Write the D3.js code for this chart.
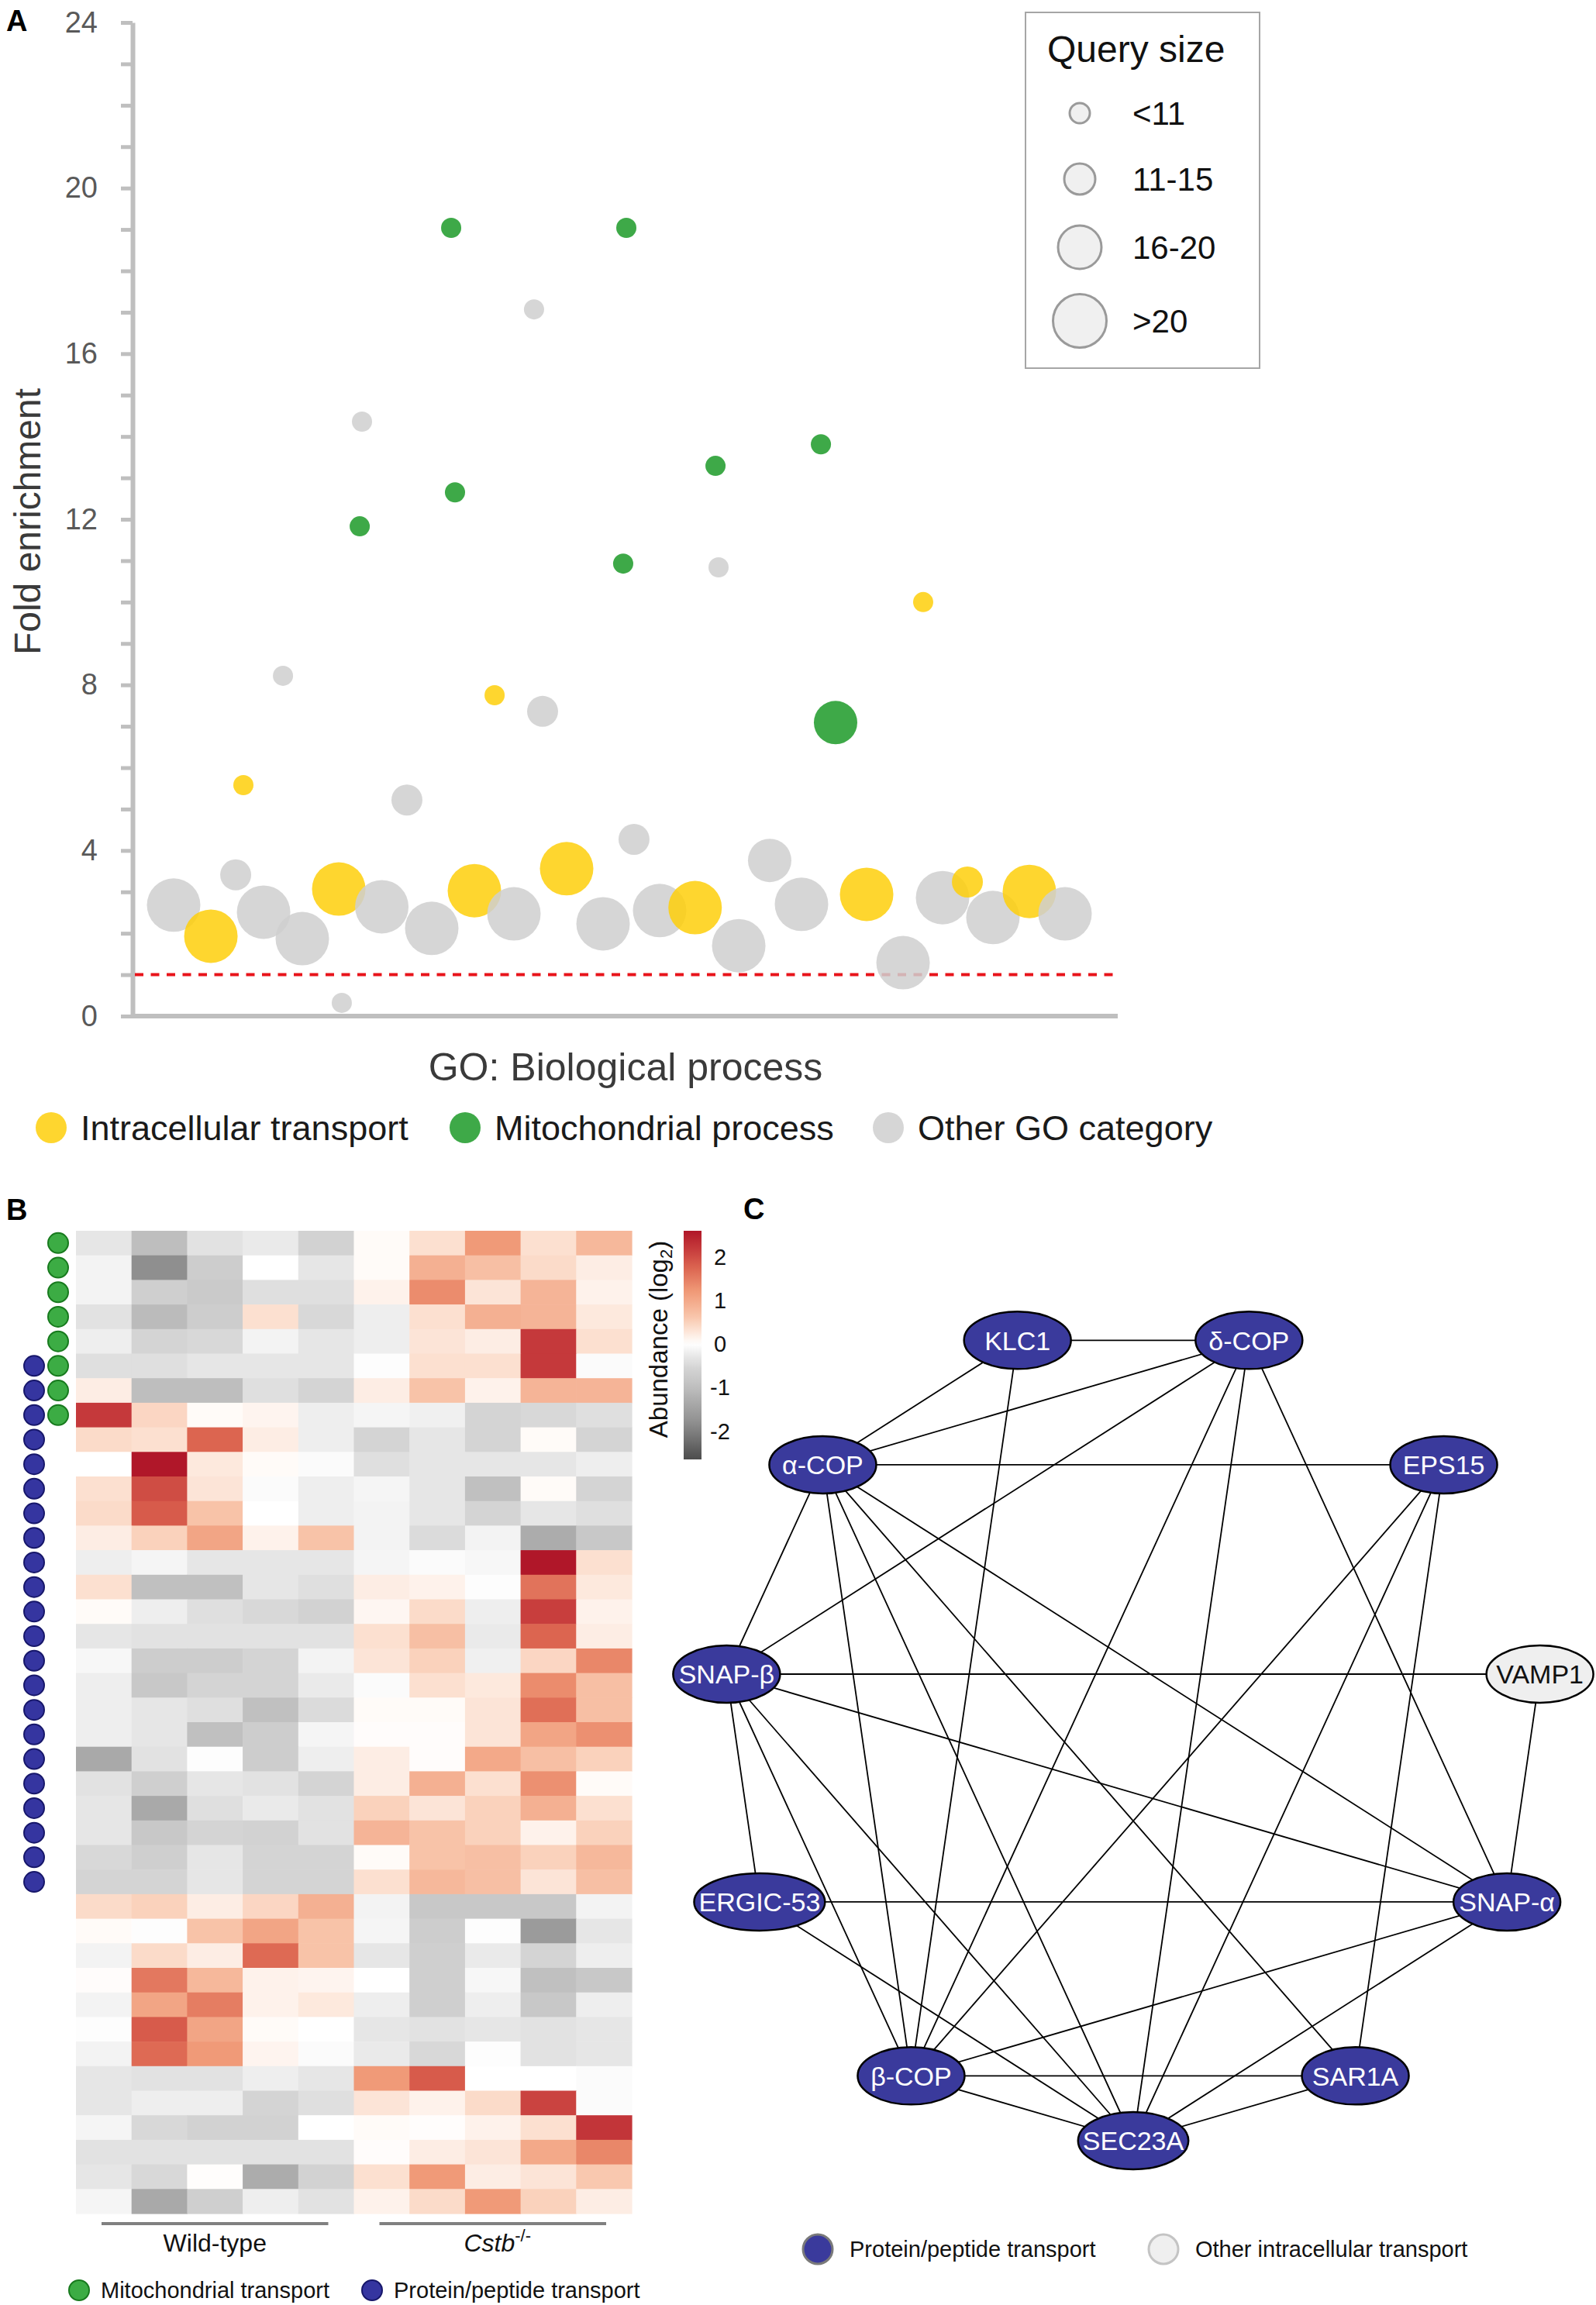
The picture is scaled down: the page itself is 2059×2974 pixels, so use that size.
<!DOCTYPE html>
<html><head><meta charset="utf-8">
<script src="https://cdn.jsdelivr.net/npm/d3@7"></script>
<style>
body{margin:0;background:#fff}
svg{display:block}
text{font-family:"Liberation Sans",Arial,Helvetica,sans-serif}
</style>
</head><body>
<svg id="chart" width="2059" height="2974"></svg>
<script>
// ================= DATA =================
// Panel A: GO biological process enrichment (x = term position on hidden axis 0-100)
const goTermX = [4.17,7.95,10.47,11.25,13.3,15.27,17.23,20.93,21.24,23.06,23.29,25.3,27.85,30.37,32.34,32.73,34.7,36.75,38.71,40.75,41.62,44.06,47.76,49.8,50.12,50.9,53.5,57.1,59.17,59.48,61.53,64.67,67.9,69.87,71.36,74.51,78.21,80.25,82.22,84.74,87.33,91.03,94.65];
const goFold = [2.68,1.93,3.41,5.58,2.51,8.22,1.87,3.07,0.32,11.83,14.36,2.64,5.22,2.12,19.04,12.65,3.03,7.75,2.47,17.07,7.36,3.56,2.23,10.93,19.04,4.27,2.55,2.62,13.29,10.84,1.70,3.76,2.70,13.81,7.09,2.94,1.29,10.0,2.86,3.24,2.38,3.01,2.47];
const goQuerySize = [">20",">20","11-15","<11",">20","<11",">20",">20","<11","<11","<11",">20","11-15",">20","<11","<11",">20","<11",">20","<11","11-15",">20",">20","<11","<11","11-15",">20",">20","<11","<11",">20","16-20",">20","<11","16-20",">20",">20","<11",">20","11-15",">20",">20",">20"];
const goCategory = ["O","I","O","I","O","O","O","I","O","M","O","O","O","O","M","M","I","I","O","O","O","I","O","M","M","O","O","I","M","O","O","O","O","M","M","I","O","I","O","I","O","I","O"];
const categoryCodes = ["I","M","O"];
const categoryNames = ["Intracellular transport","Mitochondrial process","Other GO category"];
const querySizeClasses = ["<11","11-15","16-20",">20"];
const foldTicks = d3.range(0,25);
const foldThreshold = 1;

// Panel B: heatmap of abundance (log2), 40 proteins x 10 samples
const sampleNames = ["WT1","WT2","WT3","WT4","WT5","KO1","KO2","KO3","KO4","KO5"];
const sampleGroups = [
  {name:"Wild-type", from:0, to:4},
  {name:"Cstb", sup:"-/-", from:5, to:9}
];
const heatRows = [
[-0.3,-1.0,-0.35,-0.25,-0.6, 0.05,0.35,1.2,0.35,0.8],
[-0.15,-1.8,-0.7,0,-0.3, 0.05,0.9,0.7,0.4,0.2],
[-0.15,-0.65,-0.75,-0.4,-0.4, 0.15,1.35,0.3,0.85,0.15],
[-0.35,-1.05,-0.7,0.35,-0.5, -0.2,0.35,0.9,0.85,0.25],
[-0.2,-0.55,-0.5,-0.15,-0.3, -0.2,0.3,0.2,2.2,0.35],
[-0.4,-0.4,-0.3,-0.3,-0.3, -0.02,0.35,0.35,2.2,-0.05],
[0.2,-1.0,-1.0,-0.4,-0.55, 0.2,0.65,0.15,0.85,0.85],
[2.2,0.45,0.05,0.12,-0.2, -0.12,-0.18,-0.55,-0.5,-0.4],
[0.4,0.35,1.75,0.2,-0.2, -0.55,-0.3,-0.55,0.05,-0.55],
[0,2.6,0.25,0.05,-0.05, -0.4,-0.3,-0.3,-0.3,-0.2],
[0.35,2.0,0.3,-0.05,-0.2, -0.12,-0.3,-0.95,0.05,-0.55],
[0.4,1.85,0.65,0,-0.2, -0.15,-0.3,-0.55,-0.3,-0.4],
[0.2,0.5,1.05,0.15,0.65, -0.15,-0.45,-0.15,-1.3,-0.8],
[-0.2,-0.12,-0.3,-0.3,-0.3, -0.12,-0.05,-0.1,2.6,0.35],
[0.35,-0.95,-0.95,-0.3,-0.4, 0.2,0.15,-0.02,1.6,0.25],
[0.05,-0.2,-0.4,-0.5,-0.6, 0.1,0.4,-0.2,2.15,0.15],
[-0.3,-0.35,-0.35,-0.35,-0.35, 0.35,0.7,-0.25,1.75,0.2],
[-0.1,-0.7,-0.7,-0.55,-0.15, 0.3,0.5,-0.18,0.45,1.4],
[-0.2,-0.8,-0.55,-0.55,-0.25, -0.05,0.35,0.25,1.35,0.7],
[-0.2,-0.3,-0.4,-0.95,-0.45, 0.05,0.05,0.3,1.65,0.7],
[-0.2,-0.3,-0.95,-0.7,-0.12, 0.03,0.03,0.3,1.05,1.3],
[-1.35,-0.35,-0.02,-0.7,-0.2, 0.2,0.03,1.0,0.7,0.5],
[-0.35,-0.65,-0.3,-0.35,-0.55, 0.2,0.9,0.35,1.3,0.05],
[-0.3,-1.35,-0.4,-0.25,-0.35, 0.5,0.3,0.5,0.9,0.35],
[-0.3,-0.8,-0.55,-0.6,-0.35, 0.85,0.65,0.5,0.15,0.5],
[-0.5,-0.65,-0.3,-0.55,-0.55, 0.05,0.65,0.7,0.5,0.8],
[-0.55,-0.55,-0.3,-0.55,-0.55, 0.35,0.8,0.7,0.3,0.7],
[0.4,0.5,0.2,0.45,0.9, -0.15,-0.8,-0.8,-0.8,-0.15],
[0.05,-0.03,0.65,1.05,0.65, -0.12,-0.7,-0.03,-1.6,-0.3],
[-0.15,0.4,0.2,1.7,0.65, -0.3,-0.65,-0.25,-0.55,-0.2],
[0.03,1.55,0.8,0.15,0.12, 0,-0.65,-0.1,-0.95,-0.8],
[-0.15,1.05,1.5,0.15,0.25, -0.2,-0.65,-0.2,-0.8,-0.2],
[-0.03,1.85,1.05,0.05,0, -0.3,-0.35,-0.3,-0.35,-0.3],
[-0.15,1.7,1.2,0.12,-0.05, -0.25,-0.5,-0.02,-0.35,-0.3],
[-0.3,-0.35,-0.35,-0.2,-0.3, 1.2,1.85,0,0,-0.05],
[-0.3,-0.2,-0.2,-0.55,-0.4, 0.3,0.15,0.4,2.1,-0.05],
[-0.12,-0.5,-0.6,-0.6,0, 0.05,0.02,0.15,0.35,2.25],
[-0.35,-0.35,-0.35,-0.35,-0.35, 0.03,0.2,0.3,1.0,1.4],
[-0.3,-0.5,0.02,-1.3,-0.6, 0.35,1.2,0.2,0.3,0.6],
[-0.12,-1.35,-0.65,-0.2,-0.35, 0.15,0.4,1.2,0.5,0.2]
];
const mitoTransportRows = d3.range(0,8);      // rows annotated green
const proteinTransportRows = d3.range(5,27);  // rows annotated blue
const colorbarTicks = [2,1,0,-1,-2];
const colorbarDomain = [-2.65, 2.6];

// Panel C: interaction network (circular layout order)
const networkNodes = ["SEC23A","β-COP","ERGIC-53","SNAP-β","α-COP","KLC1","δ-COP","EPS15","VAMP1","SNAP-α","SAR1A"];
const networkNodeType = ["P","P","P","P","P","P","P","P","O","P","P"];
const networkEdges = [
 ["KLC1","δ-COP"],["KLC1","α-COP"],["KLC1","β-COP"],
 ["δ-COP","α-COP"],["δ-COP","SNAP-β"],["δ-COP","β-COP"],["δ-COP","SEC23A"],["δ-COP","SNAP-α"],
 ["α-COP","EPS15"],["α-COP","SNAP-β"],["α-COP","β-COP"],["α-COP","SEC23A"],["α-COP","SAR1A"],["α-COP","SNAP-α"],
 ["EPS15","β-COP"],["EPS15","SEC23A"],["EPS15","SAR1A"],
 ["SNAP-β","VAMP1"],["SNAP-β","SNAP-α"],["SNAP-β","ERGIC-53"],["SNAP-β","β-COP"],["SNAP-β","SEC23A"],
 ["VAMP1","SNAP-α"],
 ["ERGIC-53","SNAP-α"],["ERGIC-53","SEC23A"],
 ["SNAP-α","β-COP"],["SNAP-α","SEC23A"],
 ["β-COP","SAR1A"],["β-COP","SEC23A"],["SAR1A","SEC23A"]
];
const nodeTypeCodes = ["P","O"];
const nodeTypeNames = ["Protein/peptide transport","Other intracellular transport"];

// ================= DRAW =================
const svg = d3.select("#chart");

// ---------- Panel A ----------
const xA = d3.scaleLinear().domain([0,100]).range([171,1442]);
const yA = d3.scaleLinear().domain([0,24]).range([1311,29]);
const rA = d3.scaleOrdinal().domain(querySizeClasses).range([13,20,28,34.5]);
const cA = d3.scaleOrdinal().domain(categoryCodes).range(["#fecf0a","#1c9a28","#cfcfcf"]);
const gA = svg.append("g");

gA.append("text").attr("x",8).attr("y",40).attr("font-size",38).attr("font-weight","bold").text("A");

const yAxis = d3.axisLeft(yA).tickValues(foldTicks).tickSize(15).tickSizeOuter(0).tickPadding(30)
  .tickFormat(d => d % 4 === 0 ? d : "");
const ya = gA.append("g").attr("transform","translate(171,0)").call(yAxis);
ya.select(".domain").attr("stroke","#bfbfbf").attr("stroke-width",6);
ya.selectAll(".tick line").attr("stroke","#bfbfbf").attr("stroke-width",5);
ya.selectAll(".tick text").attr("font-size",38).attr("fill","#595959")
  .attr("font-family","'Open Sans','Liberation Sans',Arial,sans-serif");
gA.append("line").attr("x1",xA(0)).attr("x2",xA(100)).attr("y1",yA(0)).attr("y2",yA(0))
  .attr("stroke","#bfbfbf").attr("stroke-width",6);

// threshold line
gA.append("line").attr("x1",xA(0)+3).attr("x2",xA(100)).attr("y1",yA(foldThreshold)).attr("y2",yA(foldThreshold))
  .attr("stroke","#e8141b").attr("stroke-width",4).attr("stroke-dasharray","11,9.5");

// bubbles
const bubbles = goTermX.map((x,i)=>({x, y:goFold[i], s:goQuerySize[i], c:goCategory[i]}));
gA.append("g").selectAll("circle").data(bubbles).join("circle")
  .attr("cx",d=>xA(d.x)).attr("cy",d=>yA(d.y)).attr("r",d=>rA(d.s))
  .attr("fill",d=>cA(d.c)).attr("fill-opacity",0.85);

// axis titles
gA.append("text").attr("transform","translate(52,673) rotate(-90)").attr("text-anchor","middle")
  .attr("font-size",48).attr("fill","#3a3a3a").text("Fold enrichment");
gA.append("text").attr("x",807).attr("y",1394).attr("text-anchor","middle")
  .attr("font-size",50).attr("fill","#3a3a3a").text("GO: Biological process");

// query size legend
const lg = gA.append("g");
lg.append("rect").attr("x",1323).attr("y",16).attr("width",302).attr("height",459)
  .attr("fill","#fff").attr("stroke","#a6a6a6").attr("stroke-width",2);
lg.append("text").attr("x",1351).attr("y",80).attr("font-size",48).attr("fill","#111").text("Query size");
const legY = d3.scalePoint().domain(querySizeClasses).range([146,414]);
const legYs = {"<11":146,"11-15":231,"16-20":319,">20":414};
querySizeClasses.forEach(q=>{
  const cy = legYs[q];
  lg.append("circle").attr("cx",1393).attr("cy",cy).attr("r",rA(q)).attr("fill","#f0f0f0")
    .attr("stroke","#9a9a9a").attr("stroke-width",3);
  lg.append("text").attr("x",1461).attr("y",cy+15).attr("font-size",42).attr("fill","#111").text(q);
});

// category legend
const catLegX = [66,600,1146];
categoryCodes.forEach((c,i)=>{
  gA.append("circle").attr("cx",catLegX[i]).attr("cy",1455).attr("r",20).attr("fill",cA(c)).attr("fill-opacity",0.85);
  gA.append("text").attr("x",catLegX[i]+38).attr("y",1471).attr("font-size",45).attr("fill","#1a1a1a").text(categoryNames[i]);
});

// ---------- Panel B ----------
const gB = svg.append("g");
gB.append("text").attr("x",8).attr("y",1574).attr("font-size",38).attr("font-weight","bold").text("B");
const xB = d3.scaleBand().domain(d3.range(sampleNames.length)).range([98,815]);
const yB = d3.scaleBand().domain(d3.range(heatRows.length)).range([1588,2856]);
const heatColor = d3.scaleLinear()
  .domain([-2.65,-1.8,-1.3,-1.0,-0.55,-0.3,0,0.35,0.65,1.2,1.75,2.2,2.6])
  .range(["#4d4d4d","#8f8f8f","#acacac","#bebebe","#d4d4d4","#e6e6e6","#ffffff","#fce0d0","#f8c3a8","#f09a78","#dc6550","#c5393b","#b01729"])
  .clamp(true);
const cells = [];
heatRows.forEach((row,i)=>row.forEach((v,j)=>cells.push({i,j,v})));
gB.append("g").selectAll("rect").data(cells).join("rect")
  .attr("x",d=>xB(d.j)).attr("y",d=>yB(d.i)).attr("width",xB.bandwidth()+0.6).attr("height",yB.bandwidth()+0.6)
  .attr("fill",d=>heatColor(d.v));

// row annotations
gB.append("g").selectAll("circle").data(proteinTransportRows).join("circle")
  .attr("cx",44).attr("cy",d=>yB(d)+yB.bandwidth()/2).attr("r",13)
  .attr("fill","#3535a0").attr("stroke","#17176a").attr("stroke-width",2);
gB.append("g").selectAll("circle").data(mitoTransportRows).join("circle")
  .attr("cx",75).attr("cy",d=>yB(d)+yB.bandwidth()/2).attr("r",13)
  .attr("fill","#3cac44").attr("stroke","#187a1e").attr("stroke-width",2);

// group bars & labels
sampleGroups.forEach(g=>{
  const x0 = xB(g.from), x1 = xB(g.to)+xB.bandwidth();
  gB.append("line").attr("x1",x0+33).attr("x2",x1-33).attr("y1",2869).attr("y2",2869)
    .attr("stroke","#808080").attr("stroke-width",4);
  const t = gB.append("text").attr("x",(x0+x1)/2+(g.sup?6:0)).attr("y",2905).attr("text-anchor","middle")
    .attr("font-size",32).attr("fill","#111");
  if(g.sup){
    t.append("tspan").attr("font-style","italic").text(g.name);
    t.append("tspan").attr("font-size",22).attr("dy",-13).text(g.sup);
  } else t.text(g.name);
});

// colorbar
const defs = svg.append("defs");
const grad = defs.append("linearGradient").attr("id","cbar").attr("x1",0).attr("x2",0).attr("y1",1).attr("y2",0);
d3.range(0,1.0001,0.02).forEach(t=>{
  const v = colorbarDomain[0] + t*(colorbarDomain[1]-colorbarDomain[0]);
  grad.append("stop").attr("offset",t).attr("stop-color",heatColor(v));
});
const yCB = d3.scaleLinear().domain(colorbarDomain).range([1883,1588]);
gB.append("rect").attr("x",882).attr("y",yCB(colorbarDomain[1])).attr("width",23)
  .attr("height",yCB(colorbarDomain[0])-yCB(colorbarDomain[1])).attr("fill","url(#cbar)");
gB.append("g").selectAll("text").data(colorbarTicks).join("text")
  .attr("x",929).attr("y",d=>yCB(d)).attr("dy","0.35em").attr("text-anchor","middle")
  .attr("font-size",29).attr("fill","#111").text(d=>d);
const ab = gB.append("text").attr("transform","translate(861,1728) rotate(-90)").attr("text-anchor","middle")
  .attr("font-size",33).attr("fill","#111");
ab.append("tspan").text("Abundance (log");
ab.append("tspan").attr("font-size",22).attr("dy",6).text("2");
ab.append("tspan").attr("dy",-6).text(")");

// bottom legend B
const legB = [{x:102,fill:"#3cac44",stroke:"#187a1e",label:"Mitochondrial transport"},
              {x:480,fill:"#3535a0",stroke:"#17176a",label:"Protein/peptide transport"}];
legB.forEach(l=>{
  gB.append("circle").attr("cx",l.x).attr("cy",2955).attr("r",13).attr("fill",l.fill).attr("stroke",l.stroke).attr("stroke-width",2);
  gB.append("text").attr("x",l.x+28).attr("y",2965).attr("font-size",29).attr("fill","#111").text(l.label);
});

// ---------- Panel C ----------
const gC = svg.append("g");
gC.append("text").attr("x",959).attr("y",1573).attr("font-size",38).attr("font-weight","bold").text("C");
const cx0 = 1462, cy0 = 2235, Rx = 530, Ry = 527;
const angle = d3.scaleLinear().domain([0,networkNodes.length]).range([0,2*Math.PI]);
const nodes = networkNodes.map((n,k)=>({name:n, type:networkNodeType[k],
  x: cx0 - Rx*Math.sin(angle(k)), y: cy0 + Ry*Math.cos(angle(k))}));
const byName = new Map(nodes.map(n=>[n.name,n]));
gC.append("g").selectAll("line").data(networkEdges).join("line")
  .attr("x1",d=>byName.get(d[0]).x).attr("y1",d=>byName.get(d[0]).y)
  .attr("x2",d=>byName.get(d[1]).x).attr("y2",d=>byName.get(d[1]).y)
  .attr("stroke","#000").attr("stroke-width",1.8);
const nodeFill = d3.scaleOrdinal().domain(nodeTypeCodes).range(["#3a3a9c","#efefef"]);
const nodeText = d3.scaleOrdinal().domain(nodeTypeCodes).range(["#ffffff","#111111"]);
const ng = gC.append("g").selectAll("g").data(nodes).join("g").attr("transform",d=>`translate(${d.x},${d.y})`);
ng.append("ellipse").attr("rx",69).attr("ry",37).attr("fill",d=>nodeFill(d.type)).attr("stroke","#000").attr("stroke-width",2.5);
ng.append("text").attr("text-anchor","middle").attr("dy","0.36em").attr("font-size",34)
  .attr("fill",d=>nodeText(d.type)).text(d=>d.name);
ng.each(function(){
  const g = d3.select(this);
  const w = g.select("text").node().getComputedTextLength();
  g.select("ellipse").attr("rx", Math.max(69, w/2+6));
});

// bottom legend C
const legC = [{x:1055,code:"P",stroke:"#7a7a7a"},{x:1501,code:"O",stroke:"#c4c4c4"}];
legC.forEach((l,i)=>{
  gC.append("circle").attr("cx",l.x).attr("cy",2902).attr("r",19).attr("fill",nodeFill(l.code))
    .attr("stroke",l.stroke).attr("stroke-width",3);
  gC.append("text").attr("x",l.x+41).attr("y",2912).attr("font-size",29).attr("fill","#111").text(nodeTypeNames[i]);
});
</script>
</body></html>
